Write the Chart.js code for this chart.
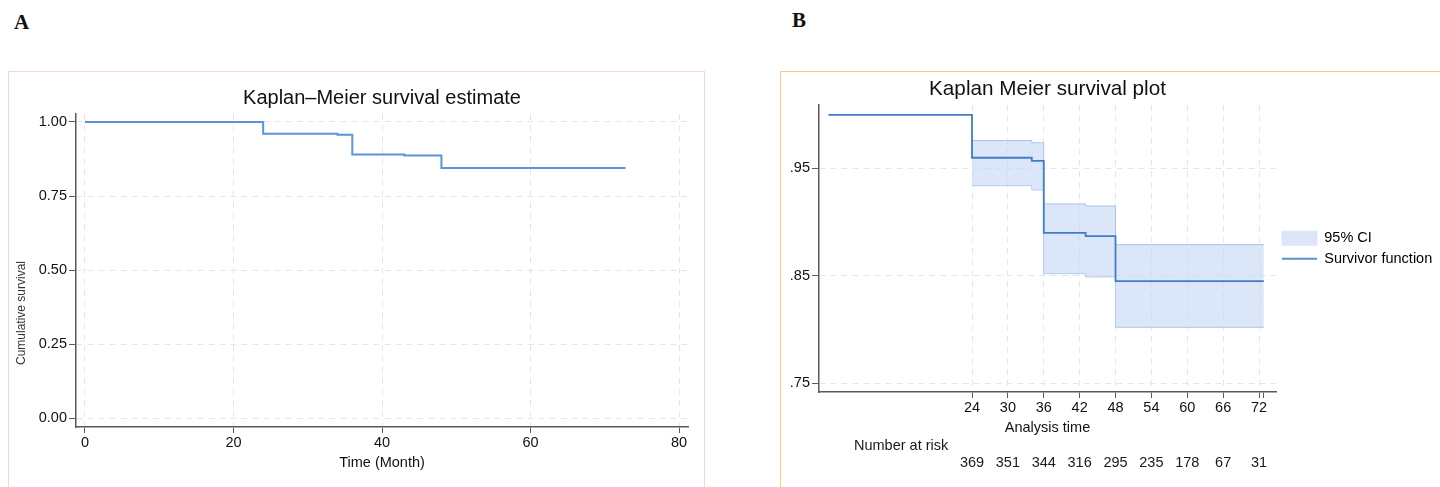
<!DOCTYPE html>
<html>
<head>
<meta charset="utf-8">
<script src="https://cdn.jsdelivr.net/npm/chart.js@4/dist/chart.umd.min.js"></script>
<style>
  html, body { margin: 0; padding: 0; background: #fff; overflow: hidden; }
  body { width: 1440px; height: 487px; position: relative; }
  .letter { position: absolute; font-family: "Liberation Serif", "Times New Roman", serif; font-weight: bold; font-size: 21px; color: #111; }
  .frame { position: absolute; top: 71px; height: 440px; box-sizing: border-box; }
  canvas { position: absolute; }
</style>
</head>
<body>
<div class="letter" style="left:14px; top:10px;">A</div>
<div class="letter" style="left:792px; top:8px;">B</div>
<div class="frame" style="left:8px; width:697px; border:1.5px solid #f6d6c6;"></div>
<div class="frame" style="left:780px; width:680px; border:1.5px solid #f8cf78;"></div>
<canvas id="kmA" width="694" height="415" style="left:9px; top:72px;"></canvas>
<canvas id="kmB" width="658" height="415" style="left:782px; top:72px;"></canvas>
<script>
// Kaplan-Meier step points (months, survival)
const times = [0, 24, 34, 36, 43, 48, 72.8];
const survival = [1, 0.960, 0.957, 0.890, 0.887, 0.845, 0.845];

// 95% CI band (starts at the first event)
const ciTimes = [24, 34, 36, 43, 48, 72.8];
const ciUpper = [0.976, 0.974, 0.917, 0.915, 0.879, 0.879];
const ciLower = [0.934, 0.930, 0.852, 0.849, 0.802, 0.802];

// number at risk table
const riskTimes = [24, 30, 36, 42, 48, 54, 60, 66, 72];
const atRisk = [369, 351, 344, 316, 295, 235, 178, 67, 31];

// tick values
const xTicksA = [0, 20, 40, 60, 80];
const yTicksA = [0, 0.25, 0.5, 0.75, 1];
const xTicksB = [24, 30, 36, 42, 48, 54, 60, 66, 72, 72.8];
const yTicksB = [0.75, 0.85, 0.95];

Chart.defaults.font.family = '"Liberation Sans", Arial, Helvetica, sans-serif';
Chart.defaults.color = "#1a1a1a";

const gridColor = "#e6e6e6";
const axisColor = "#5a5a5a";
const pts = (xs, ys) => xs.map((x, i) => ({ x, y: ys[i] }));
const setTicks = (vals) => (scale) => { scale.ticks = vals.map((v) => ({ value: v })); };

// y-axis title of panel A sits below the middle of the axis
const yTitleA = {
  id: "yTitleA",
  afterDraw(chart) {
    const c = chart.ctx;
    c.save();
    c.translate(13, chart.chartArea.top + 199);
    c.rotate(-Math.PI / 2);
    c.font = '12px "Liberation Sans", Arial, sans-serif';
    c.fillStyle = "#333";
    c.textAlign = "center";
    c.textBaseline = "middle";
    c.fillText("Cumulative survival", 0, 0);
    c.restore();
  },
};

new Chart(document.getElementById("kmA"), {
  type: "line",
  data: {
    datasets: [
      {
        label: "Survival",
        data: pts(times, survival),
        stepped: "before",
        borderColor: "#5b94dc",
        borderWidth: 2,
        pointRadius: 0,
        fill: false,
      },
    ],
  },
  options: {
    responsive: false,
    animation: false,
    layout: { padding: { left: 0, top: 0, bottom: 0, right: 15 } },
    plugins: {
      legend: { display: false },
      tooltip: { enabled: false },
      title: {
        display: true,
        text: "Kaplan\u2013Meier survival estimate",
        fullSize: false,
        font: { size: 20, weight: "normal" },
        color: "#111",
        padding: { top: 14, bottom: 4 },
      },
    },
    scales: {
      x: {
        type: "linear",
        min: -1.2,
        max: 81.2,
        afterBuildTicks: setTicks(xTicksA),
        afterFit: (s) => { s.height = 60; },
        ticks: { font: { size: 14.5 }, padding: 1, color: "#111" },
        grid: { color: gridColor, tickColor: axisColor, tickLength: 6 },
        border: { color: axisColor, width: 1.5, dash: [6, 5] },
        title: { display: true, text: "Time (Month)", font: { size: 14.5 }, color: "#111", padding: { top: 0, bottom: 15 } },
      },
      y: {
        min: -0.03,
        max: 1.027,
        afterBuildTicks: setTicks(yTicksA),
        afterFit: (s) => { s.width = 67; },
        ticks: { font: { size: 14.5 }, padding: 2, color: "#111", callback: (v) => v.toFixed(2) },
        grid: { color: gridColor, tickColor: axisColor, tickLength: 7 },
        border: { color: axisColor, width: 1.5, dash: [6, 5] },
      },
    },
  },
  plugins: [yTitleA],
});

// number-at-risk rows under the x axis of panel B
const riskTable = {
  id: "riskTable",
  afterDraw(chart) {
    const c = chart.ctx;
    const x = chart.scales.x;
    const area = chart.chartArea;
    c.save();
    c.font = '14.5px "Liberation Sans", Arial, sans-serif';
    c.fillStyle = "#1a1a1a";
    c.textBaseline = "middle";
    c.textAlign = "left";
    c.fillText("Number at risk", area.left + 35, area.bottom + 54);
    c.textAlign = "center";
    riskTimes.forEach((t, i) => {
      c.fillText(String(atRisk[i]), x.getPixelForValue(t), area.bottom + 71);
    });
    c.restore();
  },
};

const lineB = "#3f7dc8";
const bandFill = "rgba(200, 218, 246, 0.65)";
const bandEdge = "#a7c3ec";

new Chart(document.getElementById("kmB"), {
  type: "line",
  data: {
    datasets: [
      {
        label: "Survivor function",
        data: pts(times, survival),
        stepped: "before",
        borderColor: lineB,
        borderWidth: 1.8,
        pointRadius: 0,
        fill: false,
      },
      {
        label: "Upper CI",
        data: pts(ciTimes, ciUpper),
        stepped: "before",
        borderColor: bandEdge,
        borderWidth: 1,
        pointRadius: 0,
        backgroundColor: bandFill,
        fill: "+1",
      },
      {
        label: "Lower CI",
        data: pts(ciTimes, ciLower),
        stepped: "before",
        borderColor: bandEdge,
        borderWidth: 1,
        pointRadius: 0,
        fill: false,
      },
    ],
  },
  options: {
    responsive: false,
    animation: false,
    layout: { padding: 0 },
    plugins: {
      tooltip: { enabled: false },
      title: {
        display: true,
        text: "Kaplan Meier survival plot",
        fullSize: false,
        font: { size: 20.7, weight: "normal" },
        color: "#111",
        padding: { top: 5, bottom: 3 },
      },
      legend: {
        position: "right",
        fullSize: false,
        maxWidth: 164,
        labels: {
          usePointStyle: true,
          pointStyleWidth: 35,
          boxHeight: 14,
          padding: 6,
          font: { size: 14.5 },
          color: "#1a1a1a",
          generateLabels: () => [
            { text: "95% CI", fillStyle: "#dbe7f9", strokeStyle: "#dbe7f9", lineWidth: 1, pointStyle: "rect", hidden: false, datasetIndex: 1 },
            { text: "Survivor function", fillStyle: lineB, strokeStyle: "#5b8fcf", lineWidth: 2, pointStyle: "line", hidden: false, datasetIndex: 0 },
          ],
        },
      },
    },
    scales: {
      x: {
        type: "linear",
        min: -1.59,
        max: 74.84,
        afterBuildTicks: setTicks(xTicksB),
        afterFit: (s) => { s.height = 95; },
        ticks: {
          font: { size: 14.5 },
          padding: 1,
          color: "#111",
          callback: (v) => (riskTimes.includes(v) ? String(v) : ""),
        },
        grid: {
          color: (ctx) => (ctx.tick && riskTimes.includes(ctx.tick.value) ? gridColor : "rgba(0,0,0,0)"),
          tickColor: axisColor,
          tickLength: 6,
        },
        border: { color: axisColor, width: 1.5, dash: [6, 5] },
        title: { display: true, text: "Analysis time", font: { size: 14.5 }, color: "#111", padding: { top: 0, bottom: 50 } },
      },
      y: {
        min: 0.7417,
        max: 1.0093,
        afterBuildTicks: setTicks(yTicksB),
        afterFit: (s) => { s.width = 37; },
        ticks: { font: { size: 14.5 }, padding: 2, color: "#111", callback: (v) => v.toFixed(2).replace(/^0/, "") },
        grid: { color: gridColor, tickColor: axisColor, tickLength: 7 },
        border: { color: axisColor, width: 1.5, dash: [6, 5] },
      },
    },
  },
  plugins: [riskTable],
});
</script>
</body>
</html>
